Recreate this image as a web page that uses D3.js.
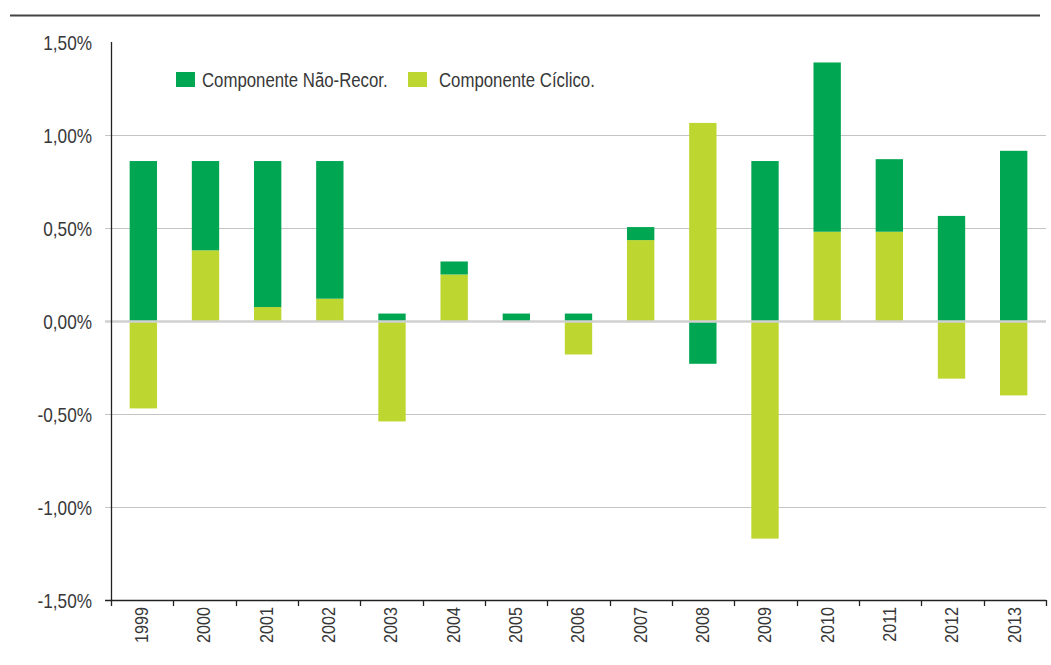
<!DOCTYPE html>
<html><head><meta charset="utf-8">
<script src="https://cdn.jsdelivr.net/npm/d3@7"></script>
<style>
body{margin:0;background:#fff;}
text{font-family:"Liberation Sans",Arial,sans-serif;fill:#383838;}
</style></head><body>
<svg id="c" width="1051" height="665"></svg>
<script>
const years = ["1999","2000","2001","2002","2003","2004","2005","2006","2007","2008","2009","2010","2011","2012","2013"];
const naoRecor = [0.86,0.48,0.785,0.74,0.04,0.07,0.04,0.04,0.07,-0.23,0.86,0.91,0.39,0.565,0.915];
const ciclico  = [-0.47,0.38,0.075,0.12,-0.54,0.25,0,-0.18,0.435,1.065,-1.17,0.48,0.48,-0.31,-0.40];
const yTicks = [-1.5,-1.0,-0.5,0,0.5,1.0,1.5];
const seriesNames = ["Componente Não-Recor.","Componente Cíclico."];
const colors = {nao:"#00A651", cic:"#BED630"};

const svg = d3.select("#c");
const L=111, R=1046, T=42, B=600;
const x = d3.scaleBand().domain(years).range([L,R]).paddingInner(0.56).paddingOuter(0.30);
const xb = d3.scaleBand().domain(years).range([L,R]);
const y = d3.scaleLinear().domain([-1.5,1.5]).range([B,T]);

const rows = years.map((yr,i)=>({year:yr, cic:ciclico[i], nao:naoRecor[i]}));
const stack = d3.stack().keys(["cic","nao"]).offset(d3.stackOffsetDiverging);
const layers = stack(rows);

// top rule
svg.append("line").attr("x1",10).attr("x2",1040).attr("y1",15.5).attr("y2",15.5)
  .attr("stroke","#444").attr("stroke-width",2);

// gridlines
svg.append("g").selectAll("line").data(yTicks.filter(d=>d!==1.5 && d!==-1.5 && d!==0)).join("line")
  .attr("x1",L-6).attr("x2",R).attr("y1",d=>Math.round(y(d))+0.5).attr("y2",d=>Math.round(y(d))+0.5)
  .attr("stroke","#c4c4c4").attr("stroke-width",1);

// bars
svg.append("g").selectAll("g").data(layers).join("g")
  .attr("fill",d=>colors[d.key])
  .selectAll("rect").data(d=>d).join("rect")
  .attr("x",d=>x(d.data.year))
  .attr("width",x.bandwidth())
  .attr("y",d=>y(Math.max(d[0],d[1])))
  .attr("height",d=>Math.abs(y(d[0])-y(d[1])));

// zero line
svg.append("line").attr("x1",L-6).attr("x2",R).attr("y1",y(0)+0.5).attr("y2",y(0)+0.5)
  .attr("stroke","#d0d0d0").attr("stroke-width",2.5);

// y axis
svg.append("line").attr("x1",L+0.5).attr("x2",L+0.5).attr("y1",T).attr("y2",B)
  .attr("stroke","#222").attr("stroke-width",1.3);
svg.append("g").selectAll("text").data(yTicks).join("text")
  .attr("transform",d=>`translate(92,${y(d)+1}) scale(0.82,1)`)
  .attr("dy","0.35em").attr("text-anchor","end")
  .attr("font-size",21)
  .text(d=>d3.format(".2f")(d).replace(".",",").replace("\u2212","-")+"%");

// x axis
svg.append("line").attr("x1",L-6).attr("x2",R).attr("y1",B+0.5).attr("y2",B+0.5)
  .attr("stroke","#222").attr("stroke-width",1.3);
const bounds = years.map(d=>xb(d)).concat([R]);
svg.append("g").selectAll("line").data(bounds).join("line")
  .attr("x1",d=>Math.round(d)+0.5).attr("x2",d=>Math.round(d)+0.5).attr("y1",B).attr("y2",B+6)
  .attr("stroke","#222").attr("stroke-width",1.3);
svg.append("g").selectAll("text").data(years).join("text")
  .attr("transform",d=>`translate(${xb(d)+xb.bandwidth()/2-1},607) rotate(-90) scale(0.85,1)`)
  .attr("dy","0.36em").attr("text-anchor","end").attr("font-size",19)
  .text(d=>d);

// legend
const leg = [{k:"nao",x:176,tx:202},{k:"cic",x:408,tx:439}];
leg.forEach((l,i)=>{
  svg.append("rect").attr("x",l.x).attr("y",72).attr("width",19).attr("height",15).attr("fill",colors[l.k]);
  svg.append("text").attr("transform",`translate(${l.tx},80) scale(0.8,1)`)
    .attr("dy","0.35em").attr("font-size",21).text(seriesNames[i]);
});
</script>
</body></html>
